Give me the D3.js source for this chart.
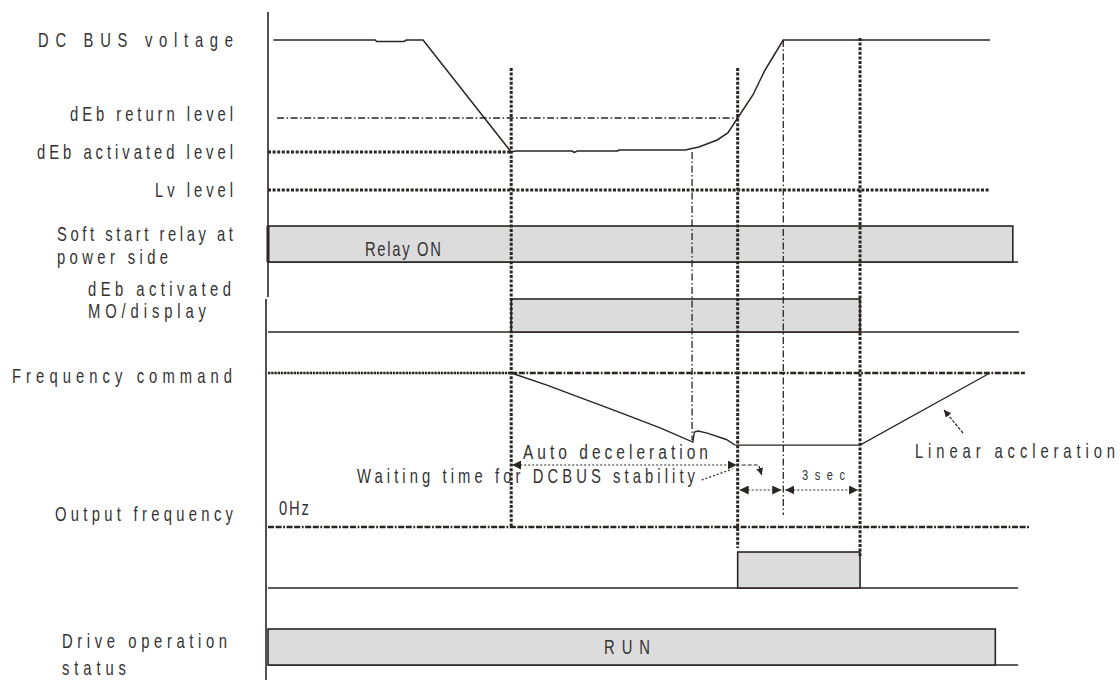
<!DOCTYPE html>
<html><head><meta charset="utf-8">
<script src="https://cdn.jsdelivr.net/npm/d3@7"></script>
<style>html,body{margin:0;padding:0;background:#fff;}svg{display:block}</style>
</head><body><svg id="c" width="1120" height="680"></svg>
<script>
// ---------------- data ----------------
// time axis in arbitrary units (0..100)
const eventTimes = [32, 55.8, 61.8, 67.8, 77.9];      // dEb on, DC bus recovers, dEb return, stable, end of 3 sec
const endTime = 95;                                    // end of traces
// DC bus voltage levels (arbitrary voltage units)
const levelNames  = ["DC BUS voltage", "dEb return level", "dEb activated level", "Lv level"];
const levelValues = [150, 72, 38, 0];
// DC bus voltage trace
const dcBusT = [0.7, 14.1, 14.3, 17.9, 18.2, 20.4, 32, 32.6, 40, 40.3, 40.7, 46, 46.2, 54.9, 56.7, 59.1, 60.5, 61.8, 63.8, 65.4, 66.6, 67.8, 95];
const dcBusV = [150, 150, 148.5, 148.5, 150, 150, 38, 39, 39, 37.5, 39, 39, 40, 40, 43, 50, 57, 72, 95, 120, 135, 150, 150];
// frequency (Hz)
const freqCommand = 60;
const outFreqT = [32, 36.7, 41, 45.4, 51.6, 55.9, 56.1, 56.6, 57.8, 60.3, 61.4, 61.8, 77.9, 95];
const outFreqF = [60, 55.3, 50.5, 45.6, 38.6, 33.1, 37.0, 37.4, 36.6, 34.1, 32.0, 31.9, 31.9, 60];
// digital signals
const signalNames = ["Relay ON", "dEb MO", "Output", "RUN"];
const signalOn    = [0, 32, 61.8, 0];
const signalOff   = [98, 77.9, 77.9, 95.7];
const signalEnd   = [98.7, 98.8, 98.7, 98.7];

// ---------------- layout ----------------
const svg = d3.select("#c");
const x  = d3.scaleLinear().domain([0, 100]).range([268, 1028]);
const yV = d3.scaleLinear().domain([0, 150]).range([190, 40]);
const yF = d3.scaleLinear().domain([0, 60]).range([527, 373]);
const rowBase = d3.scaleOrdinal().domain(signalNames).range([262, 332, 588, 665]);
const rowH = d3.scaleOrdinal().domain(signalNames).range([36, 33, 36, 36]);

const INK = "#2a2523", FILL = "#dcdcdc", TXT = "#333333";
const FONT = "'Liberation Sans',Arial,sans-serif";

const defs = svg.append("defs");
function marker(id, w, h) {
  defs.append("marker").attr("id", id).attr("viewBox", "0 0 10 10")
    .attr("refX", 10).attr("refY", 5).attr("markerWidth", w).attr("markerHeight", h)
    .attr("markerUnits", "userSpaceOnUse").attr("orient", "auto-start-reverse")
    .append("path").attr("d", "M0,0L10,5L0,10z").attr("fill", INK);
}
marker("ah", 9, 9);
marker("ahs", 7, 7);

const styles = {
  thickDot: {w: 3, dash: "3 1.6"},
  thickDashDot: {w: 2.6, dash: "6 1.6 6 1.6 1.8 1.6"},
  thinDashDot: {w: 1.3, dash: "7 2.5 1.5 2.5"},
  dense: {w: 2.6, dash: "2.4 0.8"}
};
function hline(t0, t1, y, st) {
  svg.append("line").attr("x1", x(t0)).attr("x2", x(t1)).attr("y1", y).attr("y2", y)
    .attr("stroke", INK).attr("stroke-width", st.w).attr("stroke-dasharray", st.dash);
}
function vline(t, y0, y1, st) {
  svg.append("line").attr("x1", x(t)).attr("x2", x(t)).attr("y1", y0).attr("y2", y1)
    .attr("stroke", INK).attr("stroke-width", st.w).attr("stroke-dasharray", st.dash);
}

// left axis
svg.append("line").attr("x1", x(0)).attr("x2", x(0)).attr("y1", 12).attr("y2", 297).attr("stroke", INK).attr("stroke-width", 1.6);
svg.append("line").attr("x1", x(0) - 2).attr("x2", x(0) - 2).attr("y1", 299).attr("y2", 680).attr("stroke", INK).attr("stroke-width", 1.6);

// digital signal bars
signalNames.forEach((n, i) => {
  const b = rowBase(n), h = rowH(n);
  svg.append("line").attr("x1", x(0)).attr("x2", x(signalEnd[i])).attr("y1", b).attr("y2", b)
    .attr("stroke", INK).attr("stroke-width", 1.6);
  svg.append("rect").attr("x", x(signalOn[i])).attr("y", b - h)
    .attr("width", x(signalOff[i]) - x(signalOn[i])).attr("height", h)
    .attr("fill", FILL).attr("stroke", INK).attr("stroke-width", 1.6);
});
svg.append("line").attr("x1", x(0)).attr("x2", x(0)).attr("y1", rowBase("Relay ON") - rowH("Relay ON")).attr("y2", rowBase("Relay ON"))
  .attr("stroke", INK).attr("stroke-width", 3);

// level lines
hline(1.2, eventTimes[2], yV(levelValues[1]), styles.thinDashDot);
hline(0, eventTimes[0], yV(levelValues[2]), styles.thickDot);
hline(0, endTime, yV(levelValues[3]), styles.thickDot);
// frequency command
hline(0, eventTimes[0], yF(freqCommand), styles.dense);
hline(eventTimes[0], 99.6, yF(freqCommand), styles.thickDashDot);
// 0 Hz
hline(0, 100.3, yF(0), styles.thickDashDot);

// event vertical lines
vline(eventTimes[0], 68, yF(0), styles.thickDot);
vline(eventTimes[1], yV(levelValues[2]), 440, styles.thinDashDot);
vline(eventTimes[2], 68, 548, styles.thickDot);
vline(eventTimes[3], yV(150), 515, styles.thinDashDot);
vline(eventTimes[4], 38, 556, styles.thickDot);

// DC bus voltage trace
svg.append("path").datum(d3.zip(dcBusT, dcBusV))
  .attr("d", d3.line().x(d => x(d[0])).y(d => yV(d[1])))
  .attr("fill", "none").attr("stroke", INK).attr("stroke-width", 1.5);

// output frequency trace
svg.append("path").datum(d3.zip(outFreqT, outFreqF))
  .attr("d", d3.line().x(d => x(d[0])).y(d => yF(d[1])))
  .attr("fill", "none").attr("stroke", INK).attr("stroke-width", 1.4);

// annotation arrows
const ya = 465;
svg.append("line").attr("x1", x(eventTimes[0]) + 1).attr("x2", x(eventTimes[2]) - 1).attr("y1", ya).attr("y2", ya)
  .attr("stroke", INK).attr("stroke-width", 1.2).attr("stroke-dasharray", "2 2")
  .attr("marker-start", "url(#ah)").attr("marker-end", "url(#ah)");
svg.append("path").attr("d", `M${x(eventTimes[2]) + 4},${ya} H${x(eventTimes[2]) + 21} L${x(eventTimes[2]) + 24},${ya + 10}`)
  .attr("fill", "none").attr("stroke", INK).attr("stroke-width", 1.2).attr("stroke-dasharray", "4 2")
  .attr("marker-end", "url(#ahs)");
svg.append("line").attr("x1", x(eventTimes[2]) - 36).attr("x2", x(eventTimes[2]) - 5).attr("y1", 480).attr("y2", 469)
  .attr("stroke", INK).attr("stroke-width", 1.2).attr("stroke-dasharray", "2 2");
const yb = 490;
[[eventTimes[2], eventTimes[3]], [eventTimes[3], eventTimes[4]]].forEach(([a, b]) => {
  svg.append("line").attr("x1", x(a) + 2).attr("x2", x(b) - 2).attr("y1", yb).attr("y2", yb)
    .attr("stroke", INK).attr("stroke-width", 1.2).attr("stroke-dasharray", "2 2")
    .attr("marker-start", "url(#ah)").attr("marker-end", "url(#ah)");
});
svg.append("line").attr("x1", 963).attr("x2", 944).attr("y1", 433).attr("y2", 410)
  .attr("stroke", INK).attr("stroke-width", 1.2).attr("stroke-dasharray", "3 1.5")
  .attr("marker-end", "url(#ahs)");

// ---------------- texts ----------------
// [text, left x, width, centre y, font size]
const labels = [
  ["DC BUS voltage", 38, 195, 40, 20],
  ["dEb return level", 70, 163, 114, 20],
  ["dEb activated level", 37, 196, 152, 20],
  ["Lv level", 155, 78, 190, 20],
  ["Soft start relay at", 57, 176, 234, 20],
  ["power side", 57, 111, 257, 20],
  ["dEb activated", 88, 143, 289, 20],
  ["MO/display", 88, 118, 311, 20],
  ["Frequency command", 12, 220, 376, 20],
  ["Output frequency", 55, 178, 514, 20],
  ["Drive operation", 62, 165, 641, 20],
  ["status", 62, 64, 668, 20],
  ["Relay  ON", 365, 76, 249, 20],
  ["RUN", 604, 46, 647, 20],
  ["Auto deceleration", 523, 185, 451, 21],
  ["Waiting time for DCBUS stability", 357, 338, 476, 20],
  ["3sec", 802, 43, 475, 15],
  ["Linear accleration", 915, 200, 451, 20],
  ["0Hz", 279, 30, 508, 20]
];
const SX = 0.74;
svg.append("g").selectAll("text").data(labels).join("text")
  .attr("transform", d => `translate(${d[1]},${d[3]}) scale(${SX},1)`)
  .attr("dy", "0.36em")
  .attr("textLength", d => d[2] / SX).attr("lengthAdjust", "spacing")
  .attr("font-family", FONT).attr("font-size", d => d[4]).attr("fill", TXT)
  .text(d => d[0]);
</script></body></html>
